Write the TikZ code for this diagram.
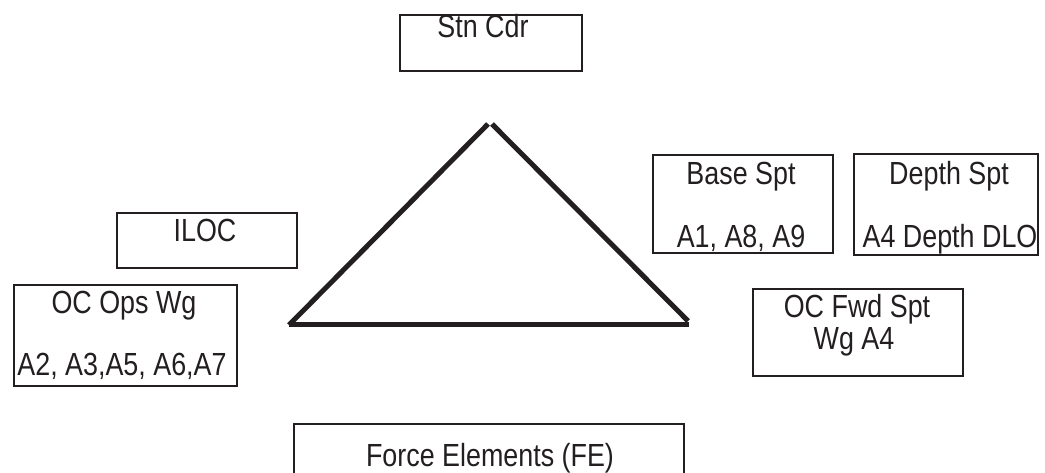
\documentclass[tikz,border=0pt]{standalone}
\usepackage{fontspec}
\setmainfont[FakeStretch=0.84]{Liberation Sans}
\definecolor{ink}{HTML}{231F20}
\begin{document}
\begin{tikzpicture}[x=1pt,y=-1pt,
  box/.style={draw=ink,line width=2pt,inner sep=0pt,outer sep=0pt},
  txt/.style={anchor=base,inner sep=0pt,text=ink,font=\fontsize{32}{38}\selectfont},
  tri/.style={draw=ink,line width=5pt,line cap=butt}]
\useasboundingbox (0,0) rectangle (1045,473);
\clip (0,0) rectangle (1045,473);
% boxes
\node[box,minimum width=182pt,minimum height=56pt] (stn) at (491,43) {};
\node[box,minimum width=180pt,minimum height=55pt] (iloc) at (207,240.5) {};
\node[box,minimum width=223pt,minimum height=101pt] (ops) at (125.5,335.5) {};
\node[box,minimum width=180pt,minimum height=98pt] (base) at (743,204) {};
\node[box,minimum width=184pt,minimum height=101pt] (depth) at (946,204.5) {};
\node[box,minimum width=210pt,minimum height=87pt] (fwd) at (858,332.5) {};
\node[box,minimum width=390pt,minimum height=70pt] (fe) at (489,459) {};
% texts
\node[txt] (tstn) at (483,38) {Stn Cdr};
\node[txt] (tiloc) at (205,242) {ILOC};
\node[txt] (tops1) at (124,313) {OC Ops Wg};
\node[txt] (tops2) at (122,375) {A2, A3,A5, A6,A7};
\node[txt] (tbase1) at (741,185) {Base Spt};
\node[txt] (tbase2) at (741,248) {A1, A8, A9};
\node[txt] (tdep1) at (949,185) {Depth Spt};
\node[txt] (tdep2) at (950,248) {A4 Depth DLO};
\node[txt] (tfwd1) at (857,318) {OC Fwd Spt};
\node[txt] (tfwd2) at (854,349) {Wg A4};
\node[txt] (tfe) at (490,466) {Force Elements (FE)};
% triangle
\coordinate (tl) at (289,325);
\coordinate (tr) at (689,325);
\coordinate (apl) at (488,124);
\coordinate (apr) at (492,124);
\coordinate (rend) at (688,321);
\draw[tri] (tl) -- (apl);
\draw[tri] (apr) -- (rend);
\draw[tri] (tl) -- (tr);
\end{tikzpicture}
\end{document}
